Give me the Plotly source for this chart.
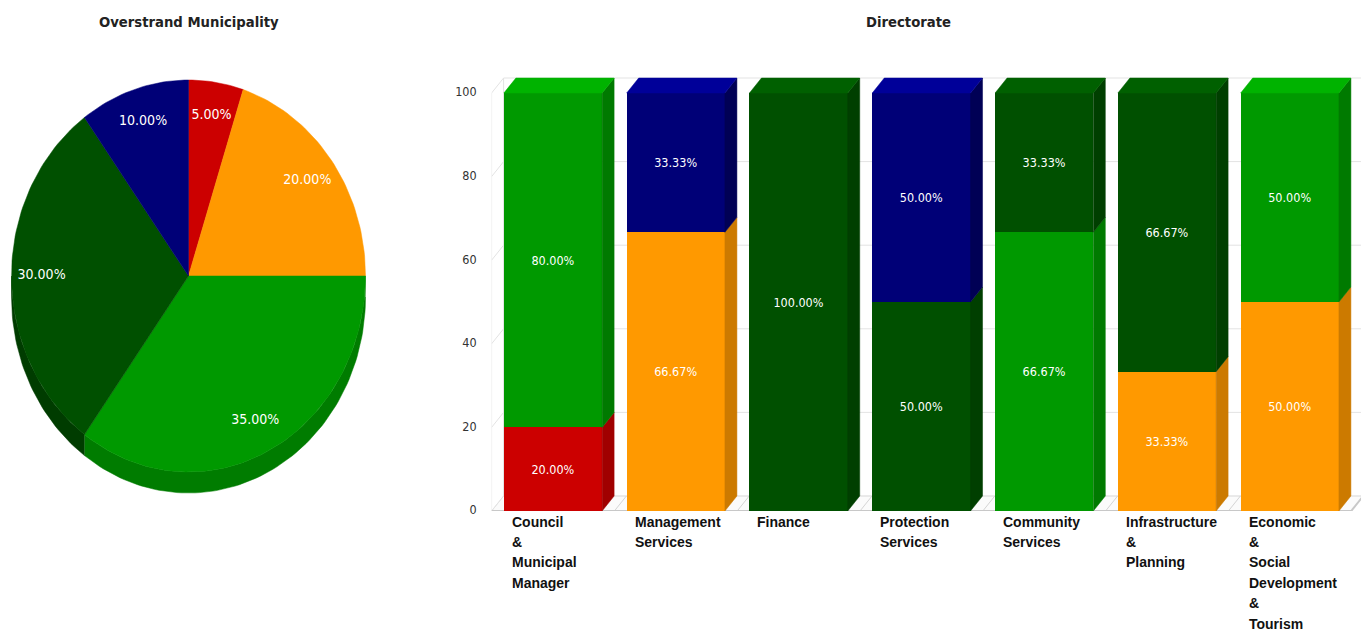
import numpy as np
import plotly.graph_objects as go

W, H = 1362, 633

# ---------------- municipality split (pie) ----------------
pie_names = ["Red", "Orange", "Green", "Dark green", "Navy"]
pie_values = [5, 20, 35, 30, 10]
pie_colors = ["#cc0000", "#ff9900", "#009900", "#005000", "#000077"]
pie_rim_colors = ["#a00000", "#cc7a00", "#007c00", "#003c00", "#000055"]

# ---------------- directorate split (stacked 100% bars) ----------------
directorates = [
    "Council<br>&<br>Municipal<br>Manager",
    "Management<br>Services",
    "Finance",
    "Protection<br>Services",
    "Community<br>Services",
    "Infrastructure<br>&<br>Planning",
    "Economic<br>&<br>Social<br>Development<br>&<br>Tourism",
]
red_share = [20.00, 0, 0, 0, 0, 0, 0]
orange_share = [0, 66.67, 0, 0, 0, 33.33, 50.00]
green_share = [80.00, 0, 0, 0, 66.67, 0, 50.00]
darkgreen_share = [0, 0, 100.00, 50.00, 33.33, 66.67, 0]
navy_share = [0, 33.33, 0, 50.00, 0, 0, 0]

series = [
    ("Red", red_share, "#cc0000", "#a00000", "#e00000"),
    ("Orange", orange_share, "#ff9900", "#cc7a00", "#ffad33"),
    ("Green", green_share, "#009900", "#007a00", "#00b300"),
    ("Dark green", darkgreen_share, "#005000", "#003f00", "#006000"),
    ("Navy", navy_share, "#000077", "#000055", "#000099"),
]
y_ticks = [0, 20, 40, 60, 80, 100]

LABEL_FONT = "DejaVu Sans Condensed, DejaVu Sans, sans-serif"
AXIS_FONT = "Liberation Sans, Arial, sans-serif"

fig = go.Figure()

# ================= pie (drawn as extruded ellipse) =================
PIE_CX, PIE_CY, PIE_RX, PIE_RY = 188.5, 276.0, 177.0, 196.0
PIE_DEPTH = 21.0 / PIE_RY
px_xr = (-1.03, 1.03)
px_yr = (-1.16, 1.03)


def arc(t0, t1, r=1.0, dy=0.0, n=240):
    steps = max(3, int(n * abs(t1 - t0) / 360) + 3)
    t = np.radians(np.linspace(t0, t1, steps))
    return r * np.sin(t), r * np.cos(t) - dy


edges = np.concatenate([[0], np.cumsum(pie_values)]) / np.sum(pie_values) * 360.0

# side wall (lower half only, the visible part of the extrusion)
for i in range(len(pie_values)):
    a0, a1 = max(edges[i], 90.0), min(edges[i + 1], 270.0)
    if a1 <= a0:
        continue
    fx, fy = arc(a0, a1)
    bx, by = arc(a1, a0, dy=PIE_DEPTH)
    fig.add_trace(go.Scatter(
        x=np.concatenate([fx, bx]), y=np.concatenate([fy, by]),
        xaxis="x2", yaxis="y2", mode="lines", fill="toself",
        fillcolor=pie_rim_colors[i], line=dict(width=0.5, color=pie_rim_colors[i]),
        hoverinfo="skip", showlegend=False,
    ))

# top faces
for i, name in enumerate(pie_names):
    ax, ay = arc(edges[i], edges[i + 1])
    fig.add_trace(go.Scatter(
        x=np.concatenate([[0], ax, [0]]), y=np.concatenate([[0], ay, [0]]),
        xaxis="x2", yaxis="y2", mode="lines", fill="toself",
        fillcolor=pie_colors[i], line=dict(width=0.5, color=pie_colors[i]),
        name=name, hoverinfo="skip", showlegend=False,
    ))

mid = np.radians((edges[:-1] + edges[1:]) / 2)
fig.add_trace(go.Scatter(
    x=0.83 * np.sin(mid), y=0.83 * np.cos(mid),
    xaxis="x2", yaxis="y2", mode="text",
    text=[f"{v / sum(pie_values) * 100:.2f}%" for v in pie_values],
    textfont=dict(family=LABEL_FONT, size=14, color="white"),
    hoverinfo="skip", showlegend=False,
))

# ================= stacked 3D bars =================
BAR_W = 0.8
DX = 12.0 / 122.8          # depth offset, category units
DY = 15.0 / 4.18           # depth offset, value units
xpos = np.arange(len(directorates))

base = np.zeros(len(directorates))
sides = {}
for name, vals, col, side_col, top_col in series:
    vals = np.asarray(vals, dtype=float)
    fig.add_trace(go.Bar(
        x=xpos, y=vals, width=BAR_W, name=name,
        marker=dict(color=col, line=dict(width=0)),
        text=[f"{v:.2f}%" if v > 0 else "" for v in vals],
        textposition="inside", insidetextanchor="middle", textangle=0,
        textfont=dict(family=LABEL_FONT, size=12.5, color="white"),
        hoverinfo="skip", showlegend=False,
    ))
    sx, sy = [], []
    for i, v in enumerate(vals):
        if v <= 0:
            continue
        xr = xpos[i] + BAR_W / 2
        y0, y1 = base[i], base[i] + v
        sx += [xr, xr + DX, xr + DX, xr, xr, None]
        sy += [y0, y0 + DY, y1 + DY, y1, y0, None]
    sides[name] = (sx, sy, side_col)
    base += vals

# top cap takes a lighter tint of the uppermost segment
top_series = {}
for i in range(len(directorates)):
    top = None
    for name, vals, col, side_col, top_col in series:
        if vals[i] > 0:
            top = (name, top_col)
    top_series.setdefault(top, []).append(i)

for name, (sx, sy, side_col) in sides.items():
    fig.add_trace(go.Scatter(
        x=sx, y=sy, mode="lines", fill="toself", fillcolor=side_col,
        line=dict(width=0.5, color=side_col), hoverinfo="skip", showlegend=False,
    ))

for (name, top_col), idx in top_series.items():
    tx, ty = [], []
    for i in idx:
        xl, xr = xpos[i] - BAR_W / 2, xpos[i] + BAR_W / 2
        tx += [xl, xl + DX, xr + DX, xr, xl, None]
        ty += [100, 100 + DY, 100 + DY, 100, 100, None]
    fig.add_trace(go.Scatter(
        x=tx, y=ty, mode="lines", fill="toself", fillcolor=top_col,
        line=dict(width=0.5, color=top_col), hoverinfo="skip", showlegend=False,
    ))

# back wall, side wall and floor
GRID = "#e3e3e3"
FLOOR = "#d4d4d4"
x_left, x_right = -0.5, len(directorates) - 0.5
shapes = []
# floor slab
shapes.append(dict(type="path", xref="x", yref="y", layer="below",
                   path=(f"M {x_left},0 L {x_left + DX},{DY} L {x_right + DX},{DY} "
                         f"L {x_right},0 Z"),
                   fillcolor="#fbfbfb", line=dict(color=GRID, width=1)))
for v in y_ticks:
    shapes.append(dict(type="line", xref="x", yref="y", layer="below",
                       x0=x_left + DX, x1=x_right + DX, y0=v + DY, y1=v + DY,
                       line=dict(color=GRID, width=1)))
    shapes.append(dict(type="line", xref="x", yref="y", layer="below",
                       x0=x_left, x1=x_left + DX, y0=v, y1=v + DY,
                       line=dict(color=GRID, width=1)))
# floor lines at category boundaries
for k in range(len(directorates) - 1):
    b = xpos[k] + 0.5
    shapes.append(dict(type="line", xref="x", yref="y", layer="below",
                       x0=b, x1=b + DX, y0=0, y1=DY,
                       line=dict(color=FLOOR, width=1)))
shapes.append(dict(type="line", xref="x", yref="y", layer="below",
                   x0=x_left + DX, x1=x_left + DX, y0=DY, y1=100 + DY,
                   line=dict(color=GRID, width=1)))
shapes.append(dict(type="line", xref="x", yref="y", layer="below",
                   x0=x_left, x1=x_left, y0=0, y1=100,
                   line=dict(color=GRID, width=1)))
shapes.append(dict(type="line", xref="x", yref="y", layer="below",
                   x0=x_left, x1=x_right, y0=0, y1=0,
                   line=dict(color="#c8c8c8", width=2)))
shapes.append(dict(type="line", xref="x", yref="y", layer="below",
                   x0=x_right, x1=x_right + DX, y0=0, y1=DY,
                   line=dict(color="#c8c8c8", width=2)))

# category labels, one line each so the line pitch can be set
LINE_PITCH = 20.4
annotations = []
for i, lab in enumerate(directorates):
    for k, line in enumerate(lab.split("<br>")):
        annotations.append(dict(
            x=xpos[i] - BAR_W / 2, y=0, xref="x", yref="y",
            xshift=6, yshift=-10.5 - k * LINE_PITCH,
            xanchor="left", yanchor="middle", align="left", showarrow=False,
            text=line, font=dict(family=AXIS_FONT, size=14, color="#111111",
                                 weight="bold"),
        ))

# titles
annotations.append(dict(x=PIE_CX / W, y=1 - 22 / H, xref="paper", yref="paper",
                        xanchor="center", yanchor="middle",
                        text="<b>Overstrand Municipality</b>", showarrow=False,
                        font=dict(family=LABEL_FONT, size=14.7, color="#222222")))
annotations.append(dict(x=908 / W, y=1 - 22 / H, xref="paper", yref="paper",
                        xanchor="center", yanchor="middle",
                        text="<b>Directorate</b>", showarrow=False,
                        font=dict(family=LABEL_FONT, size=14.7, color="#222222")))

# pixel geometry of the two panels
BAR_X0, BAR_PX = 491.6, 122.8
BAR_Y0, BAR_PY = 511.0, 4.18
x_range = [-0.5, 6.58]
y_range = [0, 104.1]

layout_x = [(BAR_X0 + (x_range[0] + 0.5) * BAR_PX) / W,
            (BAR_X0 + (x_range[1] + 0.5) * BAR_PX) / W]
layout_y = [1 - (BAR_Y0 - y_range[0] * BAR_PY) / H,
            1 - (BAR_Y0 - y_range[1] * BAR_PY) / H]

pie_x_dom = [(PIE_CX + PIE_RX * px_xr[0]) / W, (PIE_CX + PIE_RX * px_xr[1]) / W]
pie_y_dom = [1 - (PIE_CY - PIE_RY * px_yr[0]) / H, 1 - (PIE_CY - PIE_RY * px_yr[1]) / H]

fig.update_layout(
    width=W, height=H,
    margin=dict(l=0, r=0, t=0, b=0, pad=0, autoexpand=False),
    paper_bgcolor="white", plot_bgcolor="rgba(0,0,0,0)",
    barmode="stack", bargap=0.2,
    showlegend=False,
    shapes=shapes, annotations=annotations,
    xaxis=dict(domain=layout_x, range=x_range, visible=False, fixedrange=True),
    yaxis=dict(domain=layout_y, range=y_range, tickvals=y_ticks,
               showgrid=False, zeroline=False, showline=False, ticks="",
               ticklabelstandoff=14, ticklabelshift=-1,
               tickfont=dict(family=LABEL_FONT, size=12.5, color="#333333"),
               fixedrange=True),
    xaxis2=dict(domain=pie_x_dom, range=list(px_xr), visible=False, fixedrange=True,
                anchor="y2"),
    yaxis2=dict(domain=pie_y_dom, range=list(px_yr), visible=False, fixedrange=True,
                anchor="x2"),
)

fig.write_html("out.html")
